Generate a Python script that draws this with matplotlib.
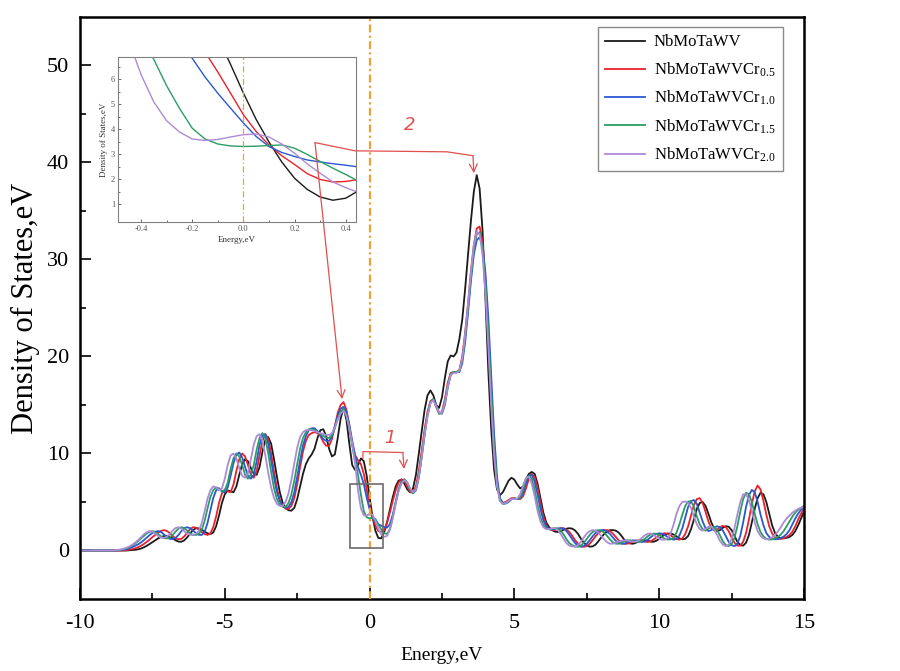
import numpy as np
import matplotlib
matplotlib.use('Agg')
import matplotlib.pyplot as plt
from matplotlib.lines import Line2D
from matplotlib.patches import Rectangle, FancyArrowPatch

plt.rcParams['font.family'] = ['Liberation Serif', 'DejaVu Serif']
plt.rcParams['mathtext.fontset'] = 'stix'
plt.rcParams['axes.unicode_minus'] = False

# energy grid, -10 .. 15 eV in 0.1 eV steps (one row = 1 eV)
energy = np.round(np.arange(-10.0, 15.001, 0.1), 1)

dos_v = [
    0, 0, 0, 0, 0, 0, 0, 0, 0, 0,
    0, 0, 0, 0, 0, 0, 0, 0.02, 0.04, 0.07,
    0.12, 0.2, 0.32, 0.48, 0.66, 0.86, 1.05, 1.25, 1.4, 1.48,
    1.5, 1.42, 1.25, 1.05, 0.92, 0.9, 1.05, 1.35, 1.75, 2.1,
    2.3, 2.28, 2.15, 1.95, 1.78, 1.7, 1.85, 2.5, 3.6, 4.9,
    5.8, 6.2, 6.1, 6.0, 6.6, 7.8, 8.9, 9.4, 9.2, 8.5,
    7.9, 7.8, 8.6, 10.2, 11.4, 11.7, 11.0, 9.4, 7.6, 6.0,
    4.9, 4.4, 4.15, 4.1, 4.4, 5.3, 6.6, 7.9, 8.9, 9.5,
    9.9, 10.5, 11.6, 12.4, 12.5, 11.8, 10.5, 9.7, 9.9, 11.6,
    13.6, 14.7, 13.5, 11.0, 8.8, 8.3, 8.8, 9.5, 9.2, 7.7,
    5.46, 3.5, 2.05, 1.3, 1.25, 1.85, 2.9, 4.2, 5.5, 6.6,
    7.2, 7.3, 6.9, 6.3, 6.0, 6.4, 7.8, 10.0, 12.3, 14.5,
    16.0, 16.5, 16.0, 15.0, 14.7, 15.8, 17.8, 19.5, 20.1, 20.0,
    20.4, 21.8, 23.8, 27.0, 30.5, 34.0, 37.0, 38.7, 37.3, 33.0,
    26.0, 18.5, 12.5, 8.3, 6.3, 5.7, 6.0, 6.6, 7.2, 7.5,
    7.3, 6.8, 6.4, 6.6, 7.3, 7.9, 8.1, 7.9, 6.9, 5.4,
    3.9, 2.9, 2.4, 2.1, 1.95, 1.9, 2.0, 2.15, 2.25, 2.3,
    2.25, 2.05, 1.7, 1.2, 0.8, 0.52, 0.4, 0.42, 0.6, 0.95,
    1.35, 1.7, 1.95, 2.1, 2.1, 2.05, 1.85, 1.5, 1.1, 0.85,
    0.72, 0.7, 0.8, 0.95, 1.05, 1.05, 1.0, 0.92, 0.9, 1.0,
    1.2, 1.45, 1.65, 1.75, 1.75, 1.65, 1.45, 1.25, 1.15, 1.2,
    1.5, 2.2, 3.2, 4.3, 4.9, 5.0, 4.6, 3.8, 2.9, 2.25,
    2.0, 2.1, 2.35, 2.5, 2.45, 2.1, 1.5, 0.9, 0.55, 0.5,
    0.8, 1.6, 2.9, 4.3, 5.4, 5.95, 5.8, 5.0, 3.8, 2.6,
    1.8, 1.4, 1.25, 1.25, 1.3, 1.4, 1.6, 2.0, 2.6, 3.3,
    4.0]

dos_cr05 = [
    0, 0, 0, 0, 0, 0, 0, 0, 0, 0,
    0, 0, 0, 0, 0, 0.02, 0.04, 0.08, 0.14, 0.22,
    0.33, 0.48, 0.66, 0.88, 1.12, 1.38, 1.62, 1.85, 2.02, 2.1,
    2.02, 1.8, 1.5, 1.25, 1.15, 1.2, 1.45, 1.85, 2.2, 2.4,
    2.35, 2.15, 1.9, 1.7, 1.6, 1.75, 2.4, 3.5, 4.9, 5.9,
    6.3, 6.1, 6.0, 6.8, 8.2, 9.4, 10.0, 9.7, 8.8, 7.8,
    7.5, 8.2, 9.8, 11.3, 12.0, 11.5, 10.0, 8.1, 6.4, 5.2,
    4.6, 4.3, 4.3, 4.6, 5.4, 6.8, 8.6, 10.2, 11.3, 11.9,
    12.1, 12.2, 12.1, 11.8, 11.2, 10.8, 10.8, 11.5, 12.8, 14.2,
    15.0, 15.3, 14.5, 12.8, 11.0, 9.8, 9.3, 8.9, 7.9, 6.3,
    4.59, 3.4, 2.6, 2.0, 1.92, 2.1, 2.8, 3.9, 5.1, 6.2,
    7.0, 7.35, 7.2, 6.6, 6.05, 5.95, 6.6, 8.2, 10.3, 12.5,
    14.3, 15.4, 15.6, 14.8, 14.1, 14.3, 15.6, 17.3, 18.3, 18.4,
    18.4, 18.6, 20.0, 22.5, 25.5, 28.8, 31.5, 33.2, 33.4, 31.8,
    28.0, 22.0, 15.5, 10.2, 6.8, 5.3, 4.9, 5.0, 5.2, 5.4,
    5.4, 5.3, 5.3, 5.6, 6.4, 7.4, 7.9, 7.6, 6.5, 4.9,
    3.5, 2.6, 2.2, 2.1, 2.1, 2.2, 2.3, 2.3, 2.15, 1.9,
    1.5, 1.05, 0.7, 0.45, 0.38, 0.45, 0.7, 1.05, 1.45, 1.8,
    2.0, 2.1, 2.1, 2.0, 1.75, 1.4, 1.05, 0.8, 0.68, 0.7,
    0.78, 0.92, 1.02, 1.05, 1.0, 0.92, 0.88, 0.95, 1.12, 1.35,
    1.58, 1.72, 1.78, 1.72, 1.55, 1.35, 1.18, 1.12, 1.25, 1.7,
    2.5, 3.6, 4.7, 5.3, 5.4, 4.9, 4.0, 3.0, 2.3, 2.05,
    2.15, 2.4, 2.55, 2.4, 2.0, 1.35, 0.8, 0.5, 0.5, 0.9,
    1.8, 3.2, 4.8, 6.1, 6.7, 6.3, 5.1, 3.7, 2.5, 1.75,
    1.35, 1.2, 1.2, 1.28, 1.4, 1.6, 1.95, 2.5, 3.2, 3.8,
    4.3]

dos_cr10 = [
    0, 0, 0, 0, 0, 0, 0, 0, 0, 0,
    0, 0, 0, 0.02, 0.04, 0.08, 0.14, 0.22, 0.34, 0.48,
    0.62, 0.82, 1.05, 1.32, 1.58, 1.8, 1.95, 2.0, 1.9, 1.65,
    1.38, 1.2, 1.17, 1.3, 1.6, 2.0, 2.3, 2.4, 2.3, 2.05,
    1.8, 1.62, 1.6, 1.9, 2.8, 4.1, 5.4, 6.2, 6.4, 6.1,
    6.0, 6.5, 7.7, 9.0, 9.9, 10.1, 9.6, 8.6, 7.7, 7.4,
    7.8, 9.2, 10.9, 11.9, 12.0, 11.0, 9.3, 7.5, 6.0, 5.1,
    4.6, 4.4, 4.5, 5.0, 6.0, 7.6, 9.3, 10.8, 11.8, 12.4,
    12.6, 12.6, 12.3, 11.9, 11.5, 11.3, 11.3, 11.8, 12.8, 13.9,
    14.6, 14.8, 14.3, 13.0, 11.3, 9.8, 8.6, 7.8, 6.85, 5.45,
    4.26, 3.32, 2.92, 2.7, 2.57, 2.42, 2.35, 2.7, 3.7, 5.0,
    6.3, 7.1, 7.35, 7.0, 6.3, 5.9, 6.2, 7.5, 9.6, 11.9,
    13.9, 15.2, 15.6, 15.0, 14.2, 14.1, 15.0, 16.8, 18.1, 18.4,
    18.4, 18.4, 19.3, 21.5, 24.5, 27.8, 30.5, 32.0, 32.3, 31.4,
    28.6, 24.0, 18.0, 12.0, 7.6, 5.4, 4.9, 4.85, 5.0, 5.3,
    5.35, 5.3, 5.4, 5.9, 6.9, 7.7, 7.8, 7.1, 5.8, 4.3,
    3.1, 2.45, 2.2, 2.15, 2.2, 2.28, 2.3, 2.25, 2.0, 1.6,
    1.15, 0.75, 0.48, 0.38, 0.45, 0.7, 1.05, 1.45, 1.8, 2.0,
    2.1, 2.1, 1.95, 1.7, 1.35, 1.0, 0.78, 0.68, 0.72, 0.85,
    0.98, 1.05, 1.02, 0.95, 0.88, 0.92, 1.1, 1.35, 1.58, 1.72,
    1.78, 1.72, 1.58, 1.38, 1.2, 1.12, 1.2, 1.55, 2.3, 3.4,
    4.5, 5.1, 5.2, 4.8, 3.9, 3.0, 2.3, 2.0, 2.1, 2.35,
    2.5, 2.4, 2.05, 1.5, 0.9, 0.55, 0.45, 0.7, 1.5, 2.9,
    4.5, 5.7, 6.25, 6.0, 5.0, 3.7, 2.6, 1.8, 1.4, 1.2,
    1.15, 1.18, 1.28, 1.45, 1.7, 2.1, 2.7, 3.3, 3.8, 4.2,
    4.5]

dos_cr15 = [
    0, 0, 0, 0, 0, 0, 0, 0, 0, 0,
    0, 0, 0.02, 0.04, 0.08, 0.14, 0.22, 0.34, 0.5, 0.7,
    0.95, 1.22, 1.5, 1.75, 1.92, 2.0, 1.9, 1.7, 1.45, 1.28,
    1.25, 1.35, 1.6, 1.95, 2.25, 2.4, 2.3, 2.05, 1.78, 1.62,
    1.6, 1.7, 2.1, 3.0, 4.3, 5.5, 6.2, 6.5, 6.4, 6.1,
    6.2, 7.0, 8.4, 9.5, 10.0, 9.7, 8.8, 7.8, 7.4, 7.8,
    8.8, 10.4, 11.6, 12.1, 11.6, 10.0, 8.1, 6.4, 5.3, 4.7,
    4.5, 4.5, 4.9, 5.8, 7.2, 8.9, 10.5, 11.6, 12.2, 12.5,
    12.5, 12.4, 12.2, 12.0, 11.8, 11.65, 11.6, 11.9, 12.6, 13.6,
    14.3, 14.6, 14.0, 12.6, 10.8, 9.2, 7.8, 5.75, 4.05, 3.42,
    3.32, 3.36, 3.25, 2.72, 2.2, 1.8, 1.7, 2.2, 3.4, 4.9,
    6.2, 7.0, 7.3, 7.0, 6.3, 5.9, 6.3, 7.7, 9.8, 12.1,
    14.0, 15.3, 15.6, 14.9, 14.1, 14.2, 15.3, 17.0, 18.2, 18.4,
    18.4, 18.5, 19.6, 22.0, 25.0, 28.3, 31.0, 32.6, 32.8, 31.2,
    27.5, 22.5, 16.3, 10.8, 7.0, 5.2, 4.8, 4.85, 5.05, 5.3,
    5.35, 5.3, 5.5, 6.3, 7.3, 7.7, 7.4, 6.3, 4.7, 3.4,
    2.6, 2.25, 2.2, 2.25, 2.3, 2.25, 2.05, 1.65, 1.15, 0.75,
    0.55, 0.42, 0.38, 0.5, 0.8, 1.2, 1.6, 1.9, 2.05, 2.1,
    2.05, 1.85, 1.5, 1.15, 0.85, 0.7, 0.7, 0.82, 0.98, 1.05,
    1.05, 0.98, 0.9, 0.88, 0.98, 1.2, 1.45, 1.65, 1.75, 1.72,
    1.58, 1.38, 1.2, 1.12, 1.15, 1.35, 1.85, 2.7, 3.7, 4.6,
    5.05, 5.1, 4.5, 3.5, 2.7, 2.2, 2.05, 2.25, 2.45, 2.45,
    2.1, 1.55, 0.95, 0.55, 0.45, 0.65, 1.3, 2.5, 4.0, 5.3,
    5.95, 5.8, 5.0, 3.8, 2.7, 1.9, 1.45, 1.2, 1.12, 1.15,
    1.25, 1.4, 1.65, 2.0, 2.5, 3.0, 3.5, 3.9, 4.2, 4.4,
    4.6]

dos_cr20 = [
    0, 0, 0, 0, 0, 0, 0, 0, 0, 0,
    0, 0.01, 0.03, 0.06, 0.1, 0.17, 0.27, 0.4, 0.58, 0.8,
    1.05, 1.35, 1.65, 1.88, 2.0, 1.95, 1.75, 1.5, 1.32, 1.3,
    1.42, 1.7, 2.05, 2.32, 2.4, 2.25, 1.98, 1.75, 1.62, 1.6,
    1.7, 2.0, 2.8, 4.0, 5.3, 6.2, 6.6, 6.5, 6.2, 6.4,
    7.4, 8.8, 9.8, 10.0, 9.5, 8.5, 7.7, 7.5, 8.0, 9.4,
    10.9, 11.8, 12.0, 11.3, 9.8, 8.0, 6.5, 5.4, 4.8, 4.6,
    4.6, 5.0, 5.9, 7.3, 9.0, 10.6, 11.7, 12.2, 12.4, 12.4,
    12.4, 12.3, 12.2, 12.1, 12.0, 11.9, 11.9, 12.1, 12.7, 13.5,
    14.1, 14.4, 13.9, 12.6, 11.0, 9.0, 6.2, 4.35, 3.62, 3.6,
    3.79, 3.7, 3.05, 2.25, 1.67, 1.4, 1.5, 2.1, 3.3, 4.8,
    6.1, 6.9, 7.25, 7.0, 6.4, 6.0, 6.3, 7.6, 9.7, 12.0,
    13.9, 15.2, 15.5, 14.9, 14.2, 14.2, 15.2, 16.9, 18.1, 18.3,
    18.3, 18.5, 19.8, 22.3, 25.4, 28.7, 31.5, 32.9, 32.6, 30.5,
    26.5, 21.0, 15.0, 9.8, 6.6, 5.1, 4.8, 4.9, 5.1, 5.3,
    5.3, 5.35, 5.8, 6.7, 7.5, 7.6, 6.9, 5.6, 4.1, 3.0,
    2.4, 2.2, 2.2, 2.3, 2.3, 2.1, 1.7, 1.2, 0.75, 0.5,
    0.42, 0.38, 0.55, 0.9, 1.35, 1.75, 2.0, 2.1, 2.05, 1.85,
    1.5, 1.15, 0.85, 0.7, 0.7, 0.8, 0.92, 1.02, 1.05, 1.02,
    0.95, 0.9, 0.92, 1.05, 1.3, 1.55, 1.72, 1.75, 1.62, 1.42,
    1.2, 1.12, 1.12, 1.3, 1.8, 2.7, 3.8, 4.6, 5.0, 5.05,
    4.9, 4.4, 3.5, 2.7, 2.2, 2.05, 2.25, 2.45, 2.45, 2.15,
    1.6, 1.0, 0.6, 0.45, 0.6, 1.2, 2.3, 3.7, 5.0, 5.8,
    5.8, 5.2, 4.1, 2.9, 2.0, 1.5, 1.25, 1.15, 1.2, 1.35,
    1.6, 1.95, 2.4, 2.9, 3.3, 3.6, 3.9, 4.1, 4.3, 4.4,
    4.5]

# zoomed view around the Fermi level (inset), 0.05 eV steps
inset_energy = np.round(np.arange(-0.50, 0.451, 0.05), 2)
inset_v = [8.3, 8.5, 8.8, 9.2, 9.5, 9.5, 9.2, 8.6, 7.7, 6.6,
           5.46, 4.4, 3.5, 2.7, 2.05, 1.6, 1.3, 1.17, 1.25, 1.55]
inset_cr05 = [9.8, 9.5, 9.3, 9.1, 8.9, 8.5, 7.9, 7.1, 6.3, 5.45,
              4.59, 3.92, 3.38, 2.95, 2.6, 2.23, 2.0, 1.9, 1.92, 2.0]
inset_cr10 = [9.8, 9.2, 8.6, 8.2, 7.8, 7.4, 6.85, 6.1, 5.45, 4.85,
              4.26, 3.72, 3.32, 3.08, 2.92, 2.78, 2.7, 2.63, 2.57, 2.5]
inset_cr15 = [9.2, 8.6, 7.8, 6.8, 5.75, 4.85, 4.05, 3.62, 3.42, 3.34,
              3.32, 3.33, 3.36, 3.38, 3.25, 3.0, 2.72, 2.45, 2.2, 1.93]
inset_cr20 = [9.0, 7.6, 6.2, 5.1, 4.35, 3.9, 3.62, 3.56, 3.6, 3.7,
              3.79, 3.82, 3.7, 3.42, 3.05, 2.62, 2.25, 1.9, 1.67, 1.48]

labels = ['NbMoTaWV',
          r'NbMoTaWVCr$_{\mathregular{0.5}}$',
          r'NbMoTaWVCr$_{\mathregular{1.0}}$',
          r'NbMoTaWVCr$_{\mathregular{1.5}}$',
          r'NbMoTaWVCr$_{\mathregular{2.0}}$']
colors = ['#1a1a1a', '#e8212b', '#2a58d4', '#2a9d62', '#ad8ad6']
main_series = [dos_v, dos_cr05, dos_cr10, dos_cr15, dos_cr20]
inset_series = [inset_v, inset_cr05, inset_cr10, inset_cr15, inset_cr20]

ANNOT = '#e0504f'
FERMI = '#eea033'

fig = plt.figure(figsize=(9, 6.71), dpi=100)
ax = fig.add_axes([0.0889, 0.1073, 0.8044, 0.8674])

for d, c, lab in zip(main_series, colors, labels):
    ax.plot(energy, d, color=c, lw=1.3, label=lab)

ax.axvline(0, color=FERMI, lw=1.6, ls=(0, (3.5, 1.5, 1, 1.5)), zorder=4)
ax.add_patch(Rectangle((-0.67, 0.25), 1.13, 6.65, fill=False,
                       edgecolor='#6b6b6b', lw=1.2, zorder=5))

ax.set_xlim(-10, 15)
ax.set_ylim(-5, 55)
ax.set_xticks([-10, -5, 0, 5, 10, 15])
ax.set_xticks([-7.5, -2.5, 2.5, 7.5, 12.5], minor=True)
ax.set_yticks([0, 10, 20, 30, 40, 50])
ax.set_yticks([5, 15, 25, 35, 45], minor=True)
ax.tick_params(which='both', direction='in', top=False, right=False,
               labelsize=16, width=1.2)
ax.tick_params(axis='x', pad=11)
ax.tick_params(axis='y', pad=8)
ax.tick_params(which='major', length=8)
ax.tick_params(which='minor', length=4)
for s in ax.spines.values():
    s.set_linewidth(1.8)
ax.set_xlabel('Energy,eV', fontsize=14, labelpad=10)
ax.set_ylabel('Density of States,eV', fontsize=22, labelpad=5)

leg = ax.legend(loc='upper right', bbox_to_anchor=(0.971, 0.983),
                borderaxespad=0, fontsize=12, frameon=True, fancybox=False,
                edgecolor='#8a8a8a', framealpha=1, handlelength=2.4,
                handletextpad=0.5, labelspacing=0.6, borderpad=0.45)
leg.get_frame().set_linewidth(1.0)

# inset around the Fermi level
ax_in = fig.add_axes([0.1311, 0.6692, 0.2644, 0.2459])
for d, c in zip(inset_series, colors):
    ax_in.plot(inset_energy, d, color=c, lw=1.0)
ax_in.axvline(0, color=FERMI, lw=0.9, ls=(0, (5, 2, 1, 2)))
ax_in.set_xlim(-0.49, 0.44)
ax_in.set_ylim(0.3, 6.9)
ax_in.set_xticks([-0.4, -0.2, 0.0, 0.2, 0.4])
ax_in.set_xticks([-0.3, -0.1, 0.1, 0.3], minor=True)
ax_in.set_yticks([1, 2, 3, 4, 5, 6])
ax_in.set_yticks([1.5, 2.5, 3.5, 4.5, 5.5, 6.5], minor=True)
ax_in.tick_params(which='both', direction='in', labelsize=6, width=0.6,
                  colors='#555555', pad=2)
ax_in.tick_params(which='major', length=2.5)
ax_in.tick_params(which='minor', length=1.5)
for s in ax_in.spines.values():
    s.set_linewidth(0.8)
    s.set_color('#808080')
ax_in.set_xlabel('Energy,eV', fontsize=6.5, labelpad=2, color='#333333')
ax_in.set_ylabel('Density of States,eV', fontsize=6.5, labelpad=2,
                 color='#333333')


# hand-drawn red annotations, drawn above the inset
def red_line(xs, ys):
    fig.add_artist(Line2D(xs, ys, transform=ax.transData, color=ANNOT,
                          lw=0.9, zorder=10))


def red_arrow(p0, p1):
    fig.add_artist(FancyArrowPatch(p0, p1, transform=ax.transData,
                                   arrowstyle='->', mutation_scale=14,
                                   color=ANNOT, lw=0.9, shrinkA=0,
                                   shrinkB=0, zorder=10))


# marker 1
red_line([-0.23, -0.23, 1.15], [9.5, 10.2, 10.1])
red_arrow((1.15, 10.1), (1.19, 8.4))
ax.text(0.70, 11.6, '1', color=ANNOT, fontsize=13, fontstyle='italic',
        family='DejaVu Sans', fontweight='light', ha='center', va='center')

# marker 2
red_line([-1.885, -0.50, 2.67, 3.57], [42.05, 41.2, 41.1, 40.7])
red_arrow((3.57, 40.7), (3.6, 38.9))
red_arrow((-1.885, 42.05), (-0.95, 15.6))
ax.text(1.40, 43.9, '2', color=ANNOT, fontsize=13, fontstyle='italic',
        family='DejaVu Sans', fontweight='light', ha='center', va='center')

fig.savefig('out.png', dpi=100)
